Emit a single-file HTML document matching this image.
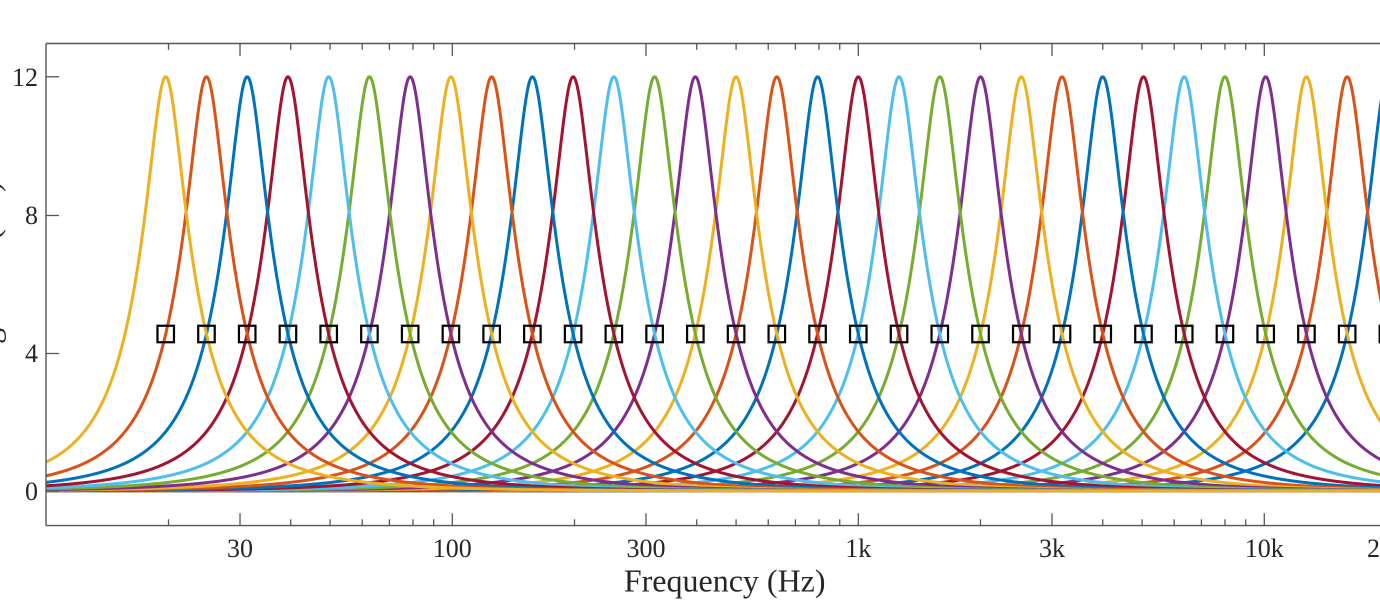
<!DOCTYPE html>
<html>
<head>
<meta charset="utf-8">
<style>
html,body{margin:0;padding:0;background:#fff;width:1380px;height:600px;overflow:hidden}
svg{display:block}
</style>
</head>
<body>
<svg id="s" width="1380" height="600" viewBox="0 0 1380 600" xmlns="http://www.w3.org/2000/svg">
<defs>
<clipPath id="c"><rect x="46" y="43.5" width="1360" height="482"/></clipPath>
</defs>
<rect x="0" y="0" width="1380" height="600" fill="#fff"/>
<g id="curves" clip-path="url(#c)" fill="none" stroke-width="3" stroke-linejoin="round" stroke-linecap="round"></g>
<g id="marks" fill="none" stroke="#000" stroke-width="2.2"></g>
<g id="axes" stroke="#555" stroke-width="1.4" fill="none">
<line x1="46" y1="43.5" x2="1380" y2="43.5"/>
<line x1="46" y1="525.6" x2="1380" y2="525.6"/>
<line x1="46" y1="43.5" x2="46" y2="525.6"/>
</g>
<g id="ticks" stroke="#555" stroke-width="1.3" fill="none"></g>
<g font-family="'Liberation Serif', serif" fill="#262626" font-size="26">
<text x="38" y="86" text-anchor="end">12</text>
<text x="38" y="224" text-anchor="end">8</text>
<text x="38" y="362" text-anchor="end">4</text>
<text x="38" y="500" text-anchor="end">0</text>
<text x="240" y="557" text-anchor="middle">30</text>
<text x="452.3" y="557" text-anchor="middle">100</text>
<text x="646" y="557" text-anchor="middle">300</text>
<text x="858.3" y="557" text-anchor="middle">1k</text>
<text x="1052" y="557" text-anchor="middle">3k</text>
<text x="1264.3" y="557" text-anchor="middle">10k</text>
<text x="1386.5" y="557" text-anchor="middle">20k</text>
</g>
<g font-family="'Liberation Serif', serif" fill="#262626" font-size="32">
<text x="724.7" y="591.5" text-anchor="middle">Frequency (Hz)</text>
<text x="0" y="0" text-anchor="middle" transform="translate(-1,284) rotate(-90)">Magnitude (dB)</text>
</g>
</svg>
<script>
(function(){
  var NS="http://www.w3.org/2000/svg";
  function X(f){return 452.3+406*Math.log10(f/100);}
  function Y(v){return 490.8-34.5*v;}
  var cols=["#0072BD","#D95319","#EDB120","#7E2F8E","#77AC30","#4DBEEE","#A2142F"];
  var A2=Math.pow(10,12/20), Q=2.85, Q2=Q*Q;
  var a=A2/Q2, b=1/(A2*Q2);
  var cg=document.getElementById("curves");
  for(var k=13;k>=-17;k--){
    var f0=1000*Math.pow(2,k/3);
    var d="";
    for(var px=46;px<=1406;px+=0.5){
      var f=100*Math.pow(10,(px-452.3)/406);
      var x=f/f0-f0/f, x2=x*x;
      var g=10*Math.log10((x2+a)/(x2+b));
      d+=(d?"L":"M")+px.toFixed(1)+" "+Y(g).toFixed(2);
    }
    var p=document.createElementNS(NS,"path");
    p.setAttribute("d",d);
    p.setAttribute("stroke",cols[(13-k)%7]);
    cg.appendChild(p);
  }
  var mg=document.getElementById("marks");
  for(var k2=-17;k2<=13;k2++){
    var fc=1000*Math.pow(2,k2/3);
    var r=document.createElementNS(NS,"rect");
    var cx=X(fc);
    r.setAttribute("x",(cx-8.25).toFixed(2));
    r.setAttribute("y",(334-8.25).toFixed(2));
    r.setAttribute("width","16.5");
    r.setAttribute("height","16.5");
    mg.appendChild(r);
  }
  var tg=document.getElementById("ticks");
  function ln(x1,y1,x2,y2){
    var l=document.createElementNS(NS,"line");
    l.setAttribute("x1",x1);l.setAttribute("y1",y1);
    l.setAttribute("x2",x2);l.setAttribute("y2",y2);
    tg.appendChild(l);
  }
  var majors=[30,100,300,1000,3000,10000,20000];
  var minors=[];
  [10,100,1000,10000].forEach(function(dec){
    for(var m=2;m<=9;m++){
      var v=m*dec;
      if(v>20000) continue;
      if(majors.indexOf(v)>=0) continue;
      minors.push(v);
    }
  });
  majors.forEach(function(v){
    var x=X(v); if(x>1381) return;
    ln(x,525.6,x,513.2); ln(x,43.5,x,55.9);
  });
  minors.forEach(function(v){
    var x=X(v); if(x>1381||x<47) return;
    ln(x,525.6,x,519.3); ln(x,43.5,x,49.8);
  });
  [0,4,8,12].forEach(function(v){
    var yy=[490.8,353.5,215.5,76.8][[0,4,8,12].indexOf(v)];
    ln(46,yy,59,yy);
  });
})();
</script>
</body>
</html>
